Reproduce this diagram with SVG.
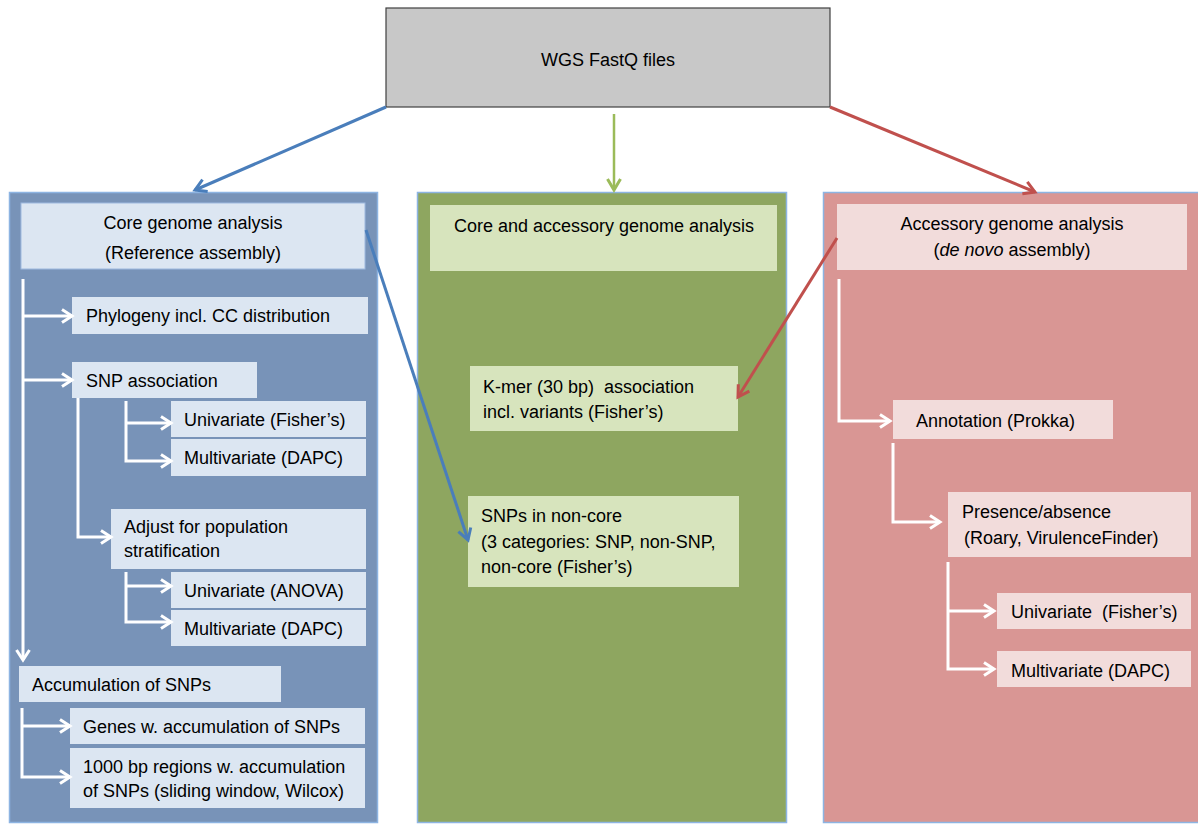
<svg xmlns="http://www.w3.org/2000/svg" width="1198" height="826" viewBox="0 0 1198 826">
<defs>
<style>
text{font-family:"Liberation Sans",Arial,sans-serif;font-size:18px;fill:#000}
.mid{text-anchor:middle}
.pre{white-space:pre}
.lb{fill:#DCE6F2}
.lg{fill:#D7E4BD}
.lr{fill:#F2DCDB}
.w{fill:none;stroke:#fff;stroke-width:3;marker-end:url(#wa)}
</style>
<marker id="wa" markerUnits="userSpaceOnUse" markerWidth="16" markerHeight="16" viewBox="0 0 16 16" refX="13" refY="8" orient="auto"><path d="M3,1.5 L13,8 L3,14.5" fill="none" stroke="#fff" stroke-width="3"/></marker>
<marker id="ba" markerUnits="userSpaceOnUse" markerWidth="18" markerHeight="18" viewBox="0 0 18 18" refX="15" refY="9" orient="auto"><path d="M4,2.5 L15,9 L4,15.5" fill="none" stroke="#4A7EBB" stroke-width="3"/></marker>
<marker id="ga" markerUnits="userSpaceOnUse" markerWidth="18" markerHeight="18" viewBox="0 0 18 18" refX="15" refY="9" orient="auto"><path d="M4,2.5 L15,9 L4,15.5" fill="none" stroke="#9BBB59" stroke-width="3"/></marker>
<marker id="ra" markerUnits="userSpaceOnUse" markerWidth="18" markerHeight="18" viewBox="0 0 18 18" refX="15" refY="9" orient="auto"><path d="M4,2.5 L15,9 L4,15.5" fill="none" stroke="#C0504D" stroke-width="3"/></marker>
</defs>
<rect width="1198" height="826" fill="#fff"/>

<g id="top">
<rect x="386" y="8" width="444" height="99" fill="#C8C8C8" stroke="#404040" stroke-width="1.2"/>
<text class="mid" x="608" y="66">WGS FastQ files</text>
</g>

<g id="panel-core">
<rect x="9.5" y="192.5" width="368" height="630" fill="#7893B8" stroke="#8DB4E2" stroke-width="1.5"/>
</g>
<g id="panel-both">
<rect x="417.5" y="192.5" width="369" height="630" fill="#8EA660" stroke="#8DB4E2" stroke-width="1.5"/>
</g>
<g id="panel-acc">
<rect x="823.5" y="192.5" width="376" height="630" fill="#D99694" stroke="#8DB4E2" stroke-width="1.5"/>
</g>

<g id="core-header"><rect class="lb" x="21" y="203" width="344" height="66" stroke="#9DB9DF" stroke-width="1"/>
<text class="mid" x="193" y="229">Core genome analysis</text><text class="mid" x="193" y="259">(Reference assembly)</text></g>
<g id="phylogeny"><rect class="lb" x="72" y="297" width="296" height="37"/><text x="86" y="322">Phylogeny incl. CC distribution</text></g>
<g id="snp-assoc"><rect class="lb" x="72" y="362" width="185" height="36"/><text x="86" y="387">SNP association</text></g>
<g id="uni-fisher"><rect class="lb" x="171" y="401" width="195" height="36"/><text x="184" y="426">Univariate (Fisher’s)</text></g>
<g id="multi-dapc1"><rect class="lb" x="171" y="439" width="195" height="37"/><text x="184" y="464">Multivariate (DAPC)</text></g>
<g id="adjust"><rect class="lb" x="111" y="509" width="255" height="60"/><text x="124" y="533">Adjust for population</text><text x="124" y="557">stratification</text></g>
<g id="uni-anova"><rect class="lb" x="171" y="572" width="195" height="36"/><text x="184" y="597">Univariate (ANOVA)</text></g>
<g id="multi-dapc2"><rect class="lb" x="171" y="610" width="195" height="36"/><text x="184" y="635">Multivariate (DAPC)</text></g>
<g id="accum"><rect class="lb" x="19" y="666" width="262" height="36"/><text x="32" y="691">Accumulation of SNPs</text></g>
<g id="genes"><rect class="lb" x="70" y="708" width="295" height="36"/><text x="83" y="733">Genes w. accumulation of SNPs</text></g>
<g id="regions"><rect class="lb" x="70" y="748" width="295" height="60"/><text x="83" y="773">1000 bp regions w. accumulation</text><text x="83" y="797">of SNPs (sliding window, Wilcox)</text></g>

<g id="both-header"><rect class="lg" x="430" y="205" width="347" height="66"/><text class="mid" x="604" y="232">Core and accessory genome analysis</text></g>
<g id="kmer"><rect class="lg" x="470" y="366" width="268" height="65"/><text class="pre" x="483" y="393">K-mer (30 bp)  association</text><text x="483" y="418">incl. variants (Fisher’s)</text></g>
<g id="noncore"><rect class="lg" x="468" y="496" width="271" height="91"/><text x="481" y="522">SNPs in non-core</text><text x="481" y="548">(3 categories: SNP, non-SNP,</text><text x="481" y="573">non-core (Fisher’s)</text></g>

<g id="acc-header"><rect class="lr" x="837" y="204" width="350" height="66"/><text class="mid" x="1012" y="230">Accessory genome analysis</text><text class="mid" x="1012" y="256">(<tspan font-style="italic">de novo</tspan> assembly)</text></g>
<g id="annotation"><rect class="lr" x="893" y="400" width="220" height="39"/><text x="916" y="427">Annotation (Prokka)</text></g>
<g id="presence"><rect class="lr" x="948" y="492" width="243" height="65"/><text x="962" y="518">Presence/absence</text><text x="964" y="544">(Roary, VirulenceFinder)</text></g>
<g id="uni-fisher2"><rect class="lr" x="997" y="593" width="194" height="36"/><text class="pre" x="1011" y="618">Univariate  (Fisher’s)</text></g>
<g id="multi-dapc3"><rect class="lr" x="997" y="651" width="194" height="36"/><text x="1011" y="677">Multivariate (DAPC)</text></g>

<g id="connectors">
<path d="M386,107 L195,190" fill="none" stroke="#4A7EBB" stroke-width="3" marker-end="url(#ba)"/>
<path d="M614,114 L614,190" fill="none" stroke="#9BBB59" stroke-width="2.5" marker-end="url(#ga)"/>
<path d="M830,107 L1035,192" fill="none" stroke="#C0504D" stroke-width="3" marker-end="url(#ra)"/>
<path d="M366,230 L468,540" fill="none" stroke="#4A7EBB" stroke-width="3" marker-end="url(#ba)"/>
<path d="M837,238 L738,397" fill="none" stroke="#C0504D" stroke-width="3" marker-end="url(#ra)"/>

<path class="w" d="M23,279 V660"/>
<path class="w" d="M23,316 H72"/>
<path class="w" d="M23,380 H72"/>
<path class="w" d="M78,398 V537 H111"/>
<path class="w" d="M126,401 V461 H171"/>
<path class="w" d="M126,423 H171"/>
<path class="w" d="M126,572 V622 H171"/>
<path class="w" d="M126,586 H171"/>
<path class="w" d="M22,708 V777 H70"/>
<path class="w" d="M22,726 H70"/>

<path class="w" d="M839,279 V421 H890"/>
<path class="w" d="M893,443 V522 H940"/>
<path class="w" d="M948,562 V669 H994"/>
<path class="w" d="M948,611 H994"/>
</g>
</svg>
